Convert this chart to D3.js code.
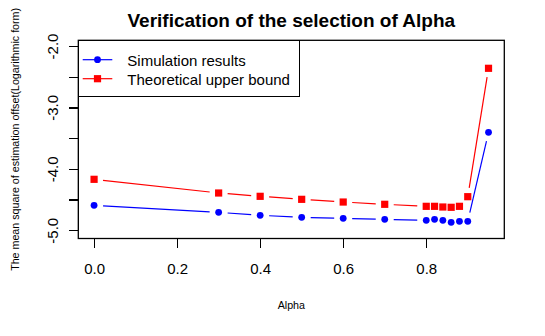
<!DOCTYPE html>
<html><head><meta charset="utf-8">
<script src="https://cdn.jsdelivr.net/npm/d3@7"></script>
<style>body{margin:0;background:#fff}svg{display:block}text{font-family:Arial,"Liberation Sans",sans-serif}</style>
</head><body><svg id="c" width="545" height="336"></svg>
<script>
const alpha = [0.0, 0.3, 0.4, 0.5, 0.6, 0.7, 0.8, 0.82, 0.84, 0.86, 0.88, 0.9, 0.95];
const simulation = [-4.594, -4.709, -4.757, -4.790, -4.806, -4.823, -4.839, -4.823, -4.839, -4.871, -4.855, -4.855, -3.406];
const upperBound = [-4.171, -4.394, -4.448, -4.497, -4.541, -4.578, -4.611, -4.611, -4.622, -4.627, -4.611, -4.454, -2.363];
const xTicks = [0.0, 0.2, 0.4, 0.6, 0.8];
const yTicks = [-5.0, -4.5, -4.0, -3.5, -3.0, -2.5, -2.0];
const yLabelTicks = [-5.0, -4.0, -3.0, -2.0];
const seriesNames = ["Simulation results", "Theoretical upper bound"];

const svg = d3.select("#c");
const L = 78.3, R = 504.3, T = 40.3, B = 238.5;
const x = d3.scaleLinear().domain([-0.038, 0.988]).range([L, R]);
const y = d3.scaleLinear().domain([-5.135, -1.907]).range([B, T]);

// box
svg.append("rect").attr("x", L).attr("y", T).attr("width", R - L).attr("height", B - T)
  .attr("fill", "none").attr("stroke", "#000").attr("stroke-width", 1.3);

// axes
const xAxis = d3.axisBottom(x).tickValues(xTicks).tickSize(9).tickFormat(d3.format(".1f"));
const gx = svg.append("g").attr("transform", `translate(0,${B})`).call(xAxis);
gx.select(".domain").attr("d", `M${x(0)},0H${x(0.8)}`).attr("stroke-width", 1.3);
gx.selectAll(".tick line").attr("stroke-width", 1.3);
gx.selectAll(".tick text").attr("font-size", 15).attr("y", 0).attr("dy", 0)
  .attr("transform", "translate(0,35)").attr("fill", "#000");

const yAxis = d3.axisLeft(y).tickValues(yTicks).tickSize(9)
  .tickFormat(d => yLabelTicks.includes(d) ? d3.format(".1f")(d).replace("\u2212", "-") : "");
const gy = svg.append("g").attr("transform", `translate(${L},0)`).call(yAxis);
gy.select(".domain").attr("d", `M0,${y(-5)}V${y(-2)}`).attr("stroke-width", 1.3);
gy.selectAll(".tick line").attr("stroke-width", 1.3);
gy.selectAll(".tick text").attr("font-size", 15).attr("x", 0).attr("dy", 0)
  .attr("text-anchor", "middle").attr("transform", "translate(-20,0) rotate(-90)").attr("fill", "#000");
svg.selectAll(".domain, .tick line").attr("shape-rendering", "crispEdges");

// series
const gap = 9;
function drawSeries(vals, color, shape) {
  const pts = alpha.map((a, i) => [x(a), y(vals[i])]);
  const g = svg.append("g");
  for (let i = 0; i < pts.length - 1; i++) {
    const [x1, y1] = pts[i], [x2, y2] = pts[i + 1];
    const dx = x2 - x1, dy = y2 - y1, len = Math.hypot(dx, dy);
    if (len <= 2 * gap) continue;
    const ux = dx / len, uy = dy / len;
    g.append("line").attr("x1", x1 + ux * gap).attr("y1", y1 + uy * gap)
      .attr("x2", x2 - ux * gap).attr("y2", y2 - uy * gap)
      .attr("stroke", color).attr("stroke-width", 1.2);
  }
  pts.forEach(([px, py]) => {
    if (shape === "circle") g.append("circle").attr("cx", px).attr("cy", py).attr("r", 3.4).attr("fill", color);
    else g.append("rect").attr("x", px - 3.6).attr("y", py - 3.6).attr("width", 7.2).attr("height", 7.2).attr("fill", color);
  });
}
drawSeries(simulation, "#0000ff", "circle");
drawSeries(upperBound, "#ff0000", "square");

// legend
const lg = svg.append("g");
lg.append("rect").attr("x", L).attr("y", T).attr("width", 299.3 - L).attr("height", 96.7 - T)
  .attr("fill", "#fff").attr("stroke", "#000").attr("stroke-width", 1.3).attr("shape-rendering", "crispEdges");
const legItems = [{name: seriesNames[0], color: "#0000ff", shape: "circle", yy: 59.7},
                  {name: seriesNames[1], color: "#ff0000", shape: "square", yy: 78.7}];
legItems.forEach(it => {
  lg.append("line").attr("x1", 82.7).attr("x2", 112.3).attr("y1", it.yy).attr("y2", it.yy)
    .attr("stroke", it.color).attr("stroke-width", 1.2);
  if (it.shape === "circle") lg.append("circle").attr("cx", 97.5).attr("cy", it.yy).attr("r", 3.4).attr("fill", it.color);
  else lg.append("rect").attr("x", 97.5 - 3.6).attr("y", it.yy - 3.6).attr("width", 7.2).attr("height", 7.2).attr("fill", it.color);
  lg.append("text").attr("x", 127.3).attr("y", it.yy + 6).attr("font-size", 15).text(it.name);
});

// titles
svg.append("text").attr("x", (L + R) / 2).attr("y", 27).attr("text-anchor", "middle")
  .attr("font-size", 19).attr("font-weight", "bold").text("Verification of the selection of Alpha");
svg.append("text").attr("x", (L + R) / 2).attr("y", 309).attr("text-anchor", "middle")
  .attr("font-size", 10.7).text("Alpha");
svg.append("text").attr("transform", `translate(18.5,${(T + B) / 2}) rotate(-90)`).attr("text-anchor", "middle")
  .attr("font-size", 10.7).text("The mean square of estimation offset(Logarithmic form)");
</script></body></html>
